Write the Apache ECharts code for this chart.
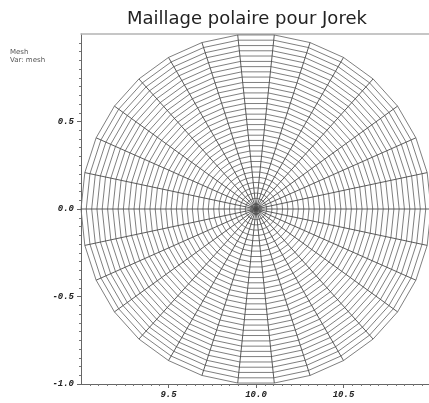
<!DOCTYPE html>
<html>
<head>
<meta charset="utf-8">
<style>
  html, body { margin: 0; padding: 0; background: #fff; overflow: hidden; }
  #chart { width: 429px; height: 403px; }
</style>
</head>
<body>
<div id="chart"></div>
<script src="https://cdn.jsdelivr.net/npm/echarts@6/dist/echarts.min.js"></script>
<script>
// mesh: spokes every 12 degrees, 33 rings
const spokeAngles = [0, 12, 24, 36, 48, 60, 72, 84, 96, 108, 120, 132, 144, 156, 168,
  180, 192, 204, 216, 228, 240, 252, 264, 276, 288, 300, 312, 324, 336, 348]
const ringRadii = [0.03, 0.061, 0.091, 0.121, 0.152, 0.182, 0.212, 0.242, 0.273, 0.303,
  0.333, 0.364, 0.394, 0.424, 0.455, 0.485, 0.515, 0.545, 0.576, 0.606,
  0.636, 0.667, 0.697, 0.727, 0.758, 0.788, 0.818, 0.848, 0.879, 0.909, 0.939, 0.97, 1.0]
const centerX = 10.0
const centerY = 0.0
const xTicks = [9.5, 10.0, 10.5]
const yTicks = [-1.0, -0.5, 0.0, 0.5]

const toXY = (r, deg) => {
  const a = deg * Math.PI / 180
  return [centerX + r * Math.cos(a), centerY + r * Math.sin(a)]
}

const series = []
ringRadii.forEach((r) => {
  const pts = spokeAngles.map((a) => toXY(r, a))
  pts.push(pts[0])
  series.push({
    type: 'line', data: pts, symbol: 'none', silent: true, animation: false, clip: true,
    lineStyle: { color: '#707070', width: 0.9 },
  })
})
spokeAngles.forEach((a) => {
  series.push({
    type: 'line', data: [toXY(0, a), toXY(1, a)], symbol: 'none', silent: true, animation: false, clip: true,
    lineStyle: { color: '#4a4a4a', width: 0.9 },
  })
})

const tickFont = {
  fontFamily: 'Liberation Mono', fontStyle: 'italic', fontWeight: 'bold', fontSize: 9, color: '#222',
}
const chart = echarts.init(document.getElementById('chart'))
chart.setOption({
  animation: false,
  title: {
    text: 'Maillage polaire pour Jorek', left: 122, top: 5,
    textStyle: { fontFamily: 'DejaVu Sans', fontWeight: 'normal', fontSize: 18, color: '#222' },
  },
  graphic: [
    { type: 'text', left: 10, top: 49, style: { text: 'Mesh', font: '7px "DejaVu Sans"', fill: '#555' } },
    { type: 'text', left: 10, top: 57, style: { text: 'Var: mesh', font: '7px "DejaVu Sans"', fill: '#555' } },
  ],
  grid: { left: 81, top: 34, width: 350, height: 350, outerBoundsMode: 'none' },
  xAxis: [
    {
      type: 'value', min: 9, max: 11, interval: 0.5, position: 'bottom',
      splitLine: { show: false },
      axisLine: { onZero: false, lineStyle: { color: '#666', width: 1 } },
      axisTick: { length: 4, customValues: xTicks, lineStyle: { color: '#666' } },
      minorTick: { show: true, splitNumber: 10, length: 2, lineStyle: { color: '#777' } },
      axisLabel: {
        ...tickFont, margin: 6, customValues: xTicks,
        formatter: (v) => v.toFixed(1),
      },
    },
    {
      type: 'value', min: 9, max: 11, position: 'top',
      splitLine: { show: false },
      axisLine: { show: true, onZero: false, lineStyle: { color: '#b4b4b4', width: 1.5 } },
      axisTick: { show: false },
      axisLabel: { show: false },
    },
  ],
  yAxis: {
    type: 'value', min: -1, max: 1, interval: 0.5, position: 'left',
    splitLine: { show: false },
    axisLine: { onZero: false, lineStyle: { color: '#666', width: 1 } },
    axisTick: { length: 4, customValues: yTicks, lineStyle: { color: '#666' } },
    minorTick: { show: true, splitNumber: 10, length: 2, lineStyle: { color: '#777' } },
    axisLabel: {
      ...tickFont, margin: 7, customValues: yTicks,
      formatter: (v) => v.toFixed(1),
    },
  },
  series,
})
</script>
</body>
</html>
